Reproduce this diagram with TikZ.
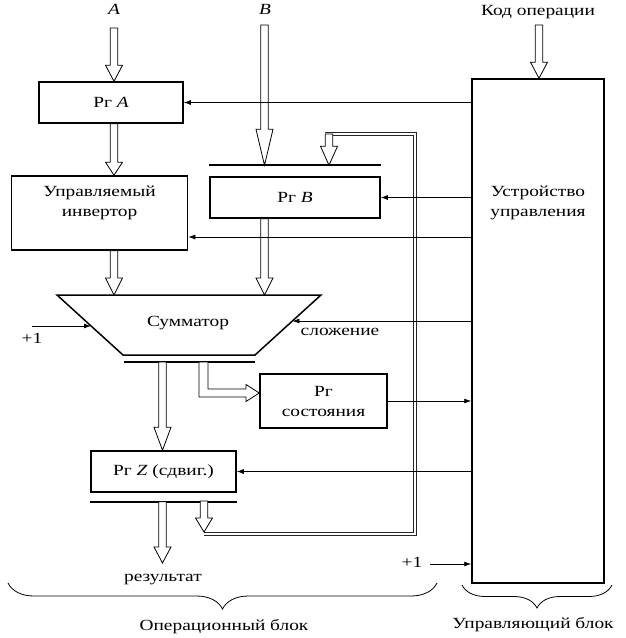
\documentclass[tikz,border=0pt]{standalone}
\usepackage{fontspec}
\setmainfont{Liberation Serif}[FakeStretch=1.25]
\usetikzlibrary{arrows.meta,calc,decorations.pathreplacing}

\tikzset{
  txt/.style={inner sep=0pt, align=center, font=\fontsize{15.5}{20}\selectfont},
  reg/.style={draw, line width=1.5pt, inner sep=0pt, align=center, font=\fontsize{15.5}{20}\selectfont},
  ctl/.style={line width=0.8pt, -{Latex[length=7pt,width=5pt]}},
  bus/.style={line width=1.6pt},
  hollow/.style={line width=0.8pt, fill=white, line join=miter},
  fb/.style={double=white, double distance=1.8pt, line width=0.9pt, draw=black!85},
  brc/.style={decorate, decoration={brace, amplitude=#1, mirror}, line width=0.8pt},
}

% hollow downward arrow: optional head length, start, tip (x taken from tip)
\newcommand\hvarrow[3][16]{%
  \draw[hollow] let \p1=(#2), \p2=(#3) in
    (\x2-3.8pt,\y1) -- (\x2-3.8pt,\y2+#1pt) -- (\x2-8.5pt,\y2+#1pt) -- (\x2,\y2)
    -- (\x2+8.5pt,\y2+#1pt) -- (\x2+3.8pt,\y2+#1pt) -- (\x2+3.8pt,\y1) -- cycle;}

\begin{document}
\begin{tikzpicture}[x=1pt,y=-1pt]
\useasboundingbox (0,0) rectangle (625,638);

% labels at top
\node[txt] (Alab) at (114,9) {\textit{A}};
\node[txt] (Blab) at (265,9) {\textit{B}};
\node[txt] (kod) at (538,12) {Код операции};

% boxes
\node[reg, minimum width=144pt, minimum height=41pt] (rga) at (111,102.5) {Рг \textit{A}};
\node[reg, minimum width=176pt, minimum height=74pt] (inv) at (99.5,213) {};
\node[txt] (invt) at (99.5,203) {Управляемый\\инвертор};
\node[reg, minimum width=170pt, minimum height=41pt] (rgb) at (295,197.5) {Рг \textit{B}};
\node[reg, minimum width=132pt, minimum height=504pt] (uu) at (538,331) {};
\node[txt] (uut) at (538,203) {Устройство\\управления};
\node[reg, minimum width=127pt, minimum height=54pt] (state) at (323.5,401) {Рг\\состояния};
\node[reg, minimum width=145pt, minimum height=41pt] (rgz) at (163.5,471.5) {Рг \textit{Z} (сдвиг.)};

% adder trapezium
\coordinate (s1) at (57,295);
\coordinate (s2) at (321,295);
\coordinate (s3) at (255,355);
\coordinate (s4) at (123,355);
\draw[line width=1.5pt, line join=miter] (s1) -- (s2) -- (s3) -- (s4) -- cycle;
\node[txt] (sum) at (188,323) {Сумматор};
\coordinate (sumL) at (91,326);
\coordinate (sumR) at (292.4,321);

% bus bars
\coordinate (bb1) at ([yshift=11pt]rgb.north west);
\coordinate (bb2) at ([yshift=11pt]rgb.north east);
\draw[bus] (bb1) -- (bb2);
\coordinate (su1) at (124,362);
\coordinate (su2) at (255,362);
\draw[bus] (su1) -- (su2);
\coordinate (zb1) at ([yshift=-9pt]rgz.south west);
\coordinate (zb2) at ([yshift=-9pt]rgz.south east);
\draw[bus] (zb1) -- (zb2);

% coordinates for hollow arrows
\coordinate (Atop) at (114,28);
\coordinate (Btop) at (264.5,25);
\coordinate (Ktop) at (539,25);
\coordinate (Rx) at (162.5,362);
\coordinate (Sx) at (204,501);
\coordinate (Stip) at (204,532);
\coordinate (Ftop) at (329,134);

% feedback double line (shift register to Рг B)
\coordinate (fa) at (204,534);
\coordinate (fb) at (415,534);
\coordinate (fc) at (415,134);
\coordinate (fd) at (325,134);
\draw[fb] (fa) -- (fb) -- (fc) -- (fd);

% hollow arrows
\hvarrow{Atop}{Atop |- rga.north}
\hvarrow[13]{Atop |- rga.south}{Atop |- inv.north}
\hvarrow[36]{Btop}{Btop |- bb1}
\hvarrow{Ktop}{Ktop |- uu.north}
\hvarrow[17]{Atop |- inv.south}{Atop |- s1}
\hvarrow[17]{Btop |- rgb.south}{Btop |- s1}
\hvarrow[23]{Rx}{Rx |- rgz.north}
\node[txt] (res) at (163,580) {результат};
\hvarrow{Rx |- zb1}{Rx |- 0,563}
\hvarrow[14]{Sx}{Stip}
\hvarrow[19]{Ftop}{Ftop |- bb1}

% bent hollow arrow to status register
\draw[hollow] (199,362) -- (199,397) -- (246,397) -- (246,401.5) -- (state.west |- 0,393)
  -- (246,384.5) -- (246,389) -- (208,389) -- (208,362) -- cycle;

% control signals
\draw[ctl] (uu.west |- rga.east) -- (rga.east);
\draw[ctl] (uu.west |- rgb.east) -- (rgb.east);
\draw[ctl] (uu.west |- 0,237) -- (inv.east |- 0,237);
\draw[ctl] (uu.west |- sumR) -- (sumR);
\node[txt] (slo) at (340,332) {сложение};
\draw[ctl] (uu.west |- rgz.east) -- (rgz.east);
\draw[ctl] (state.east) -- (uu.west |- state.east);

\node[txt] (p1) at (32,338) {+1};
\coordinate (p1s) at (32,326);
\draw[ctl] (p1s) -- (sumL);
\node[txt] (p2) at (412,562) {+1};
\coordinate (p2s) at (430,564);
\draw[ctl] (p2s) -- (uu.west |- p2s);

% braces
\coordinate (b1) at (8,583);
\coordinate (b2) at (437,583);
\draw[brc=26pt] (b1) -- (b2);
\node[txt] (opb) at (224,627) {Операционный блок};
\coordinate (b3) at (462,585);
\coordinate (b4) at (612,585);
\draw[brc=23pt] (b3) -- (b4);
\node[txt] (upb) at (533,625) {Управляющий блок};
\end{tikzpicture}
\end{document}
